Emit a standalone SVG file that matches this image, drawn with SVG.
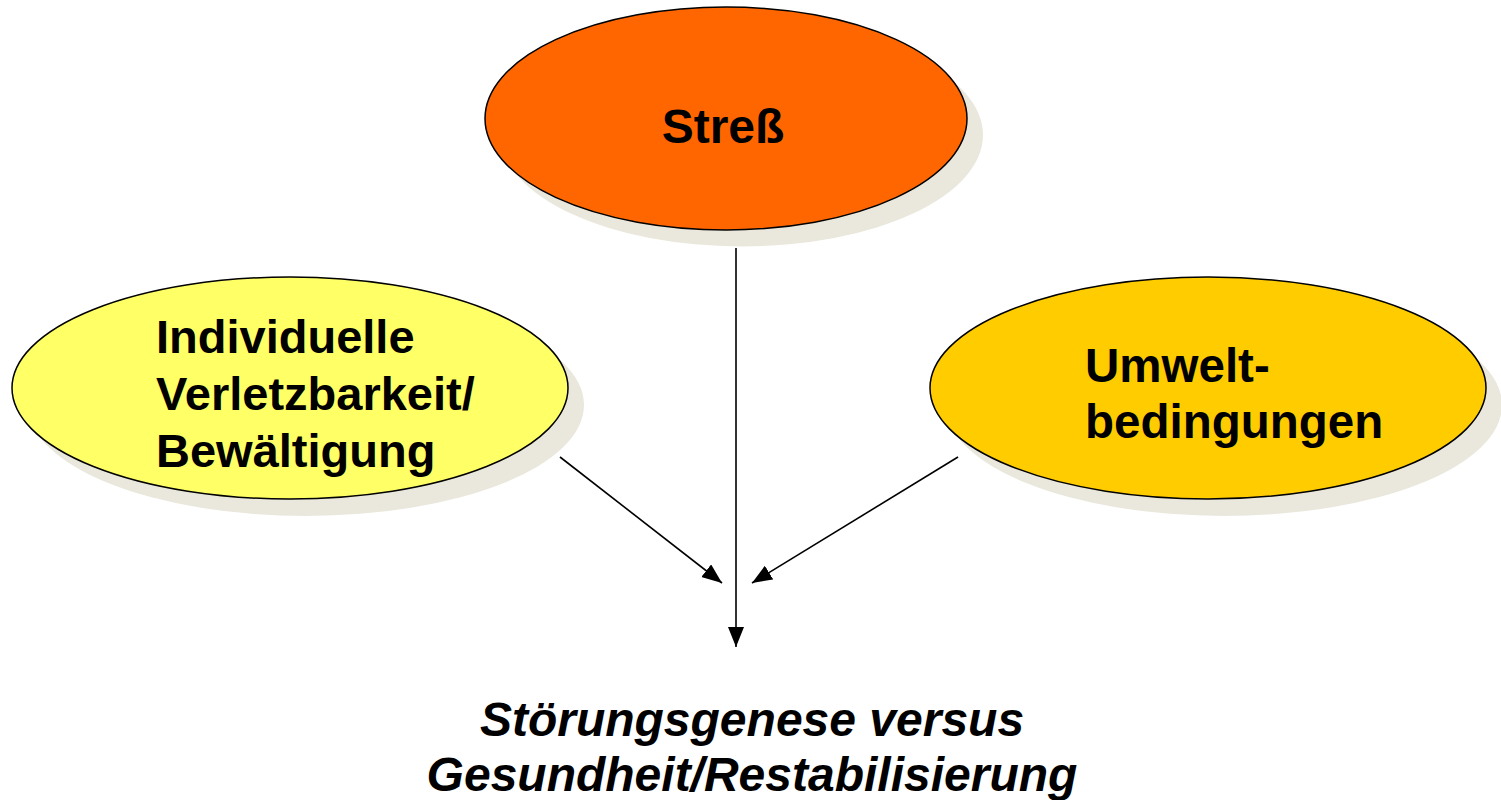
<svg xmlns="http://www.w3.org/2000/svg" width="1501" height="800" viewBox="0 0 1501 800">
<defs>
<style>
.shadow{fill:#EAE8DC;stroke:none}
.node{stroke:#000;stroke-width:1.5}
.lbl{font-family:"Liberation Sans",Arial,sans-serif;font-weight:bold;fill:#000}
.conn{stroke:#000;stroke-width:1.6;fill:none;marker-end:url(#ah)}
</style>
<marker id="ah" markerUnits="userSpaceOnUse" markerWidth="22" markerHeight="18" refX="20" refY="8" orient="auto">
<path d="M0,0 L20,8 L0,16 z" fill="#000"/>
</marker>
</defs>
<rect width="1501" height="800" fill="#fff"/>
<g id="node-stress">
<ellipse class="shadow" cx="742" cy="135" rx="241" ry="111.5"/>
<ellipse class="node" cx="726" cy="118.5" rx="241" ry="111.5" fill="#FF6600"/>
<text class="lbl" x="723" y="143" font-size="48" text-anchor="middle">Streß</text>
</g>
<g id="node-individuell">
<ellipse class="shadow" cx="306" cy="405" rx="278" ry="111"/>
<ellipse class="node" cx="290" cy="388" rx="278" ry="111" fill="#FFFF66"/>
<text class="lbl" x="156" y="353" font-size="47">Individuelle</text>
<text class="lbl" x="156" y="410" font-size="47">Verletzbarkeit/</text>
<text class="lbl" x="156" y="467" font-size="47">Bewältigung</text>
</g>
<g id="node-umwelt">
<ellipse class="shadow" cx="1224" cy="405" rx="278" ry="111"/>
<ellipse class="node" cx="1208" cy="388" rx="278" ry="111" fill="#FFCC00"/>
<text class="lbl" x="1085" y="382" font-size="47.5">Umwelt-</text>
<text class="lbl" x="1085" y="438" font-size="47.5">bedingungen</text>
</g>
<g id="connectors">
<line class="conn" x1="736" y1="248" x2="736" y2="647"/>
<line class="conn" x1="560" y1="457" x2="722" y2="583"/>
<line class="conn" x1="958" y1="457" x2="752" y2="583"/>
</g>
<g id="result">
<text class="lbl" x="752" y="736" font-size="48" font-style="italic" text-anchor="middle">Störungsgenese versus</text>
<text class="lbl" x="752" y="791" font-size="48" font-style="italic" text-anchor="middle">Gesundheit/Restabilisierung</text>
</g>
</svg>
